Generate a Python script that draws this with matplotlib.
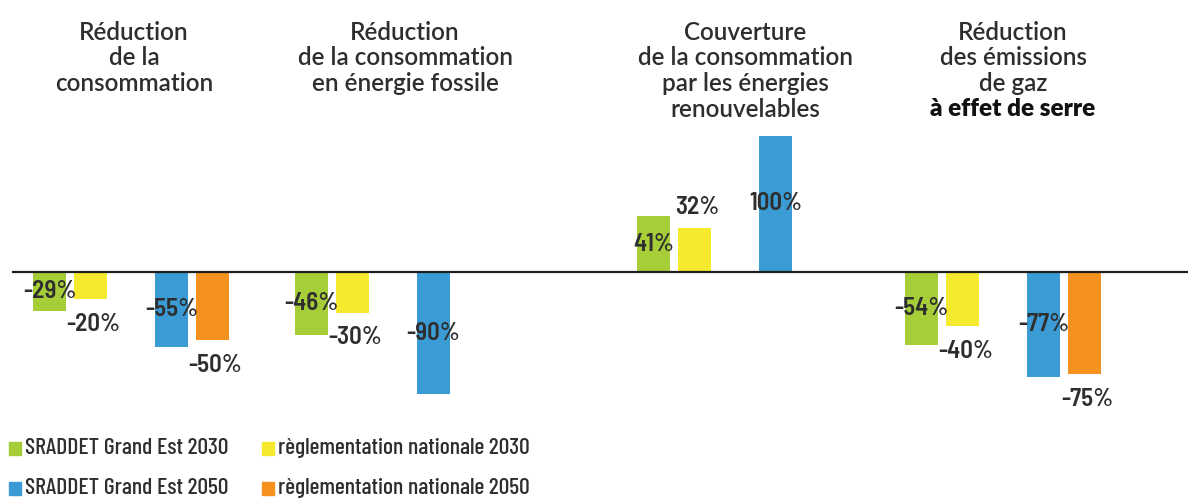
import matplotlib
matplotlib.use("Agg")
import matplotlib.pyplot as plt
from matplotlib import font_manager
from matplotlib.patches import Rectangle

# objectifs par thème (en %)
titles = [
    ["Réduction", "de la", "consommation"],
    ["Réduction", "de la consommation", "en énergie fossile"],
    ["Couverture", "de la consommation", "par les énergies", "renouvelables"],
    ["Réduction", "des émissions", "de gaz", "à effet de serre"],
]
series_names = [
    "SRADDET Grand Est 2030",
    "règlementation nationale 2030",
    "SRADDET Grand Est 2050",
    "règlementation nationale 2050",
]
sraddet_2030 = [-29, -46, 41, -54]
national_2030 = [-20, -30, 32, -40]
sraddet_2050 = [-55, -90, 100, -77]
national_2050 = [-50, None, None, -75]

colors = ["#a6ce39", "#f6ea2f", "#3a9bd5", "#f5921f"]
text_color = "#2e2e2e"

names = {f.name for f in font_manager.fontManager.ttflist}
legend_font = [n for n in ["Barlow Condensed", "Liberation Sans Narrow", "DejaVu Sans"] if n in names]
label_font = [n for n in ["Barlow Semi Condensed", "Liberation Sans", "DejaVu Sans"] if n in names]
title_font = [n for n in ["Lato", "DejaVu Sans"] if n in names]

W, H = 1188, 499
fig = plt.figure(figsize=(W / 100, H / 100), dpi=100)
ax = fig.add_axes([0, 0, 1, 1])
px = 1.36  # pixels par point de pourcentage
base = 272
ax.set_xlim(0, W)
ax.set_ylim(-(H - base) / px, base / px)
ax.axis("off")


def ypix(y):
    # position verticale en pixels depuis le haut -> unités de données
    return (base - y) / px


group_left = [33, 295, 637, 905]
offsets = [0, 41, 122, 163]
bw = 33
title_x = [134, 405, 745, 1013]

all_series = [sraddet_2030, national_2030, sraddet_2050, national_2050]

for g in range(4):
    for s, vals in enumerate(all_series):
        v = vals[g]
        if v is None:
            continue
        x0 = group_left[g] + offsets[s]
        ax.bar(x0, v, width=bw, align="edge", color=colors[s], zorder=2)
        xc = x0 + bw / 2
        if s in (0, 2):
            # étiquette au milieu de la barre
            ax.text(xc, v / 2, f"{v}%", ha="center", va="center",
                    fontsize=18, fontweight="semibold", color=text_color,
                    family=label_font, zorder=3)
        else:
            dy = -18 if v < 0 else 15
            ax.annotate(f"{v}%", (xc + 3, v), xytext=(0, dy),
                        textcoords="offset points", ha="center", va="center",
                        fontsize=18, fontweight="semibold", color=text_color,
                        family=label_font, zorder=3)

# ligne de base
ax.plot([13, W], [0, 0], color="#1e1e1e", lw=1.6, zorder=4)

# titres des thèmes, ligne par ligne
for g, lines in enumerate(titles):
    for i, line in enumerate(lines):
        heavy = (g == 3 and i == 3)
        ax.text(title_x[g], ypix(32 + 25.8 * i), line, ha="center",
                va="center", fontsize=17.5,
                fontweight="heavy" if heavy else "semibold",
                color="#111111" if heavy else text_color, family=title_font)

# légende
leg_pos = [(9, 448), (262, 448), (9, 488), (262, 488)]
for s, (lx, ly) in enumerate(leg_pos):
    yy = ypix(ly)
    ax.add_patch(Rectangle((lx, yy - 6.5 / px), 12, 13 / px,
                           color=colors[s], clip_on=False))
    ax.text(lx + 16, yy, series_names[s], ha="left", va="center",
            fontsize=17, fontweight="medium", color=text_color,
            family=legend_font)

fig.savefig("out.png", dpi=100)
